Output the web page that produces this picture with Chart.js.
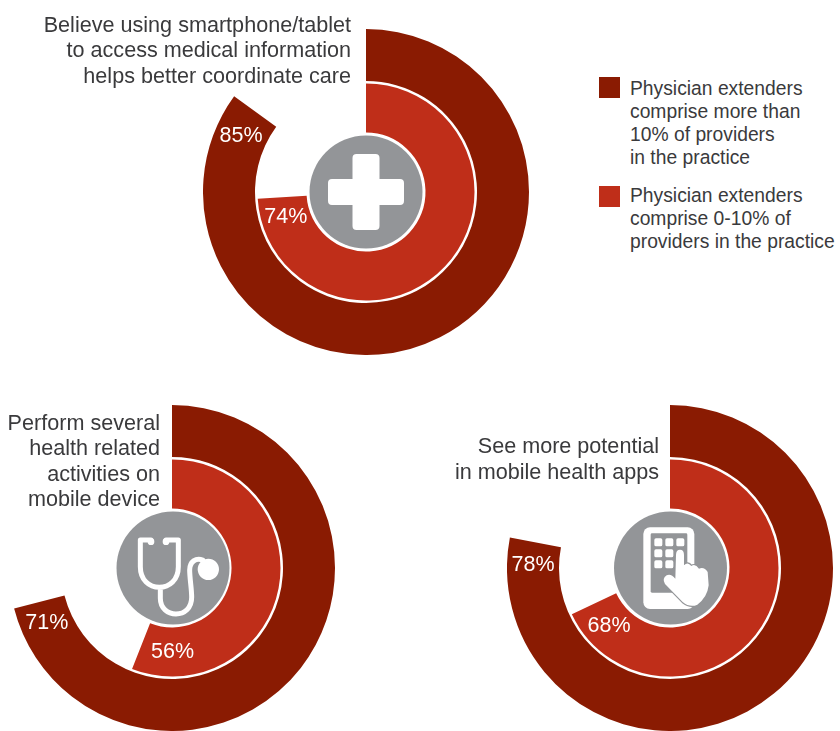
<!DOCTYPE html>
<html>
<head>
<meta charset="utf-8">
<script src="https://cdn.jsdelivr.net/npm/chart.js@4"></script>
<style>
  html, body { margin: 0; padding: 0; background: #fff; }
  body { position: relative; width: 840px; height: 731px; overflow: hidden;
         font-family: "Liberation Sans", Arial, sans-serif; color: #3a3a3c; }
  canvas { position: absolute; }
  .title { position: absolute; text-align: right; white-space: nowrap; font-size: 21.6px; line-height: 25.6px; }
  .key { position: absolute; width: 21px; height: 21px; left: 599px; }
  .keytext { position: absolute; left: 630px; white-space: nowrap; font-size: 19.3px; line-height: 23px; }
</style>
</head>
<body>
<script>
// Survey shares, in percent, for each of the three statements
const seriesNames = [
  "Physician extenders comprise more than 10% of providers in the practice",
  "Physician extenders comprise 0-10% of providers in the practice"
];
const statements = [
  ["Believe using smartphone/tablet", "to access medical information", "helps better coordinate care"],
  ["Perform several", "health related", "activities on", "mobile device"],
  ["See more potential", "in mobile health apps"]
];
const moreThanTen = [85, 71, 78];
const zeroToTen = [74, 56, 68];

const DARK = "#8a1b02";
const RED = "#bf2e19";
const GREY = "#939598";
const RADIUS = 163;

// Canvas centre, hub nudge, title placement and label offsets (degrees back from the arc end)
const panels = [
  { cx: 366, cy: 192, hubDx: 0, titleRight: 351, titleTop: 11.5, back: [11.8, 13.8], icon: drawCross },
  { cx: 171.5, cy: 568, hubDx: 1, titleRight: 160, titleTop: 409.5, back: [9.5, 22], icon: drawStethoscope },
  { cx: 669.5, cy: 568, hubDx: 0.5, titleRight: 659, titleTop: 433, back: [9.6, 18.3], icon: drawTablet }
];

function drawCross(ctx) {
  ctx.fillStyle = "#fff";
  ctx.beginPath();
  ctx.roundRect(-38, -13, 76, 26, 4);
  ctx.roundRect(-13.5, -38, 27, 76, 4);
  ctx.fill();
}

function drawStethoscope(ctx) {
  ctx.save();
  ctx.scale(1 / 3, 1 / 3);
  ctx.translate(-216, -174);
  ctx.strokeStyle = "#fff";
  ctx.fillStyle = "#fff";
  ctx.lineWidth = 15;
  ctx.lineCap = "round";
  ctx.lineJoin = "round";
  ctx.beginPath();
  ctx.moveTo(150, 90);
  ctx.lineTo(118, 90);
  ctx.lineTo(118, 170);
  ctx.bezierCurveTo(118, 210, 145, 232, 175, 232);
  ctx.bezierCurveTo(205, 232, 232, 210, 232, 170);
  ctx.lineTo(232, 90);
  ctx.lineTo(195, 90);
  ctx.moveTo(178, 232);
  ctx.lineTo(178, 265);
  ctx.bezierCurveTo(178, 295, 200, 312, 225, 312);
  ctx.bezierCurveTo(250, 312, 272, 295, 272, 262);
  ctx.bezierCurveTo(272, 235, 266, 205, 266, 180);
  ctx.bezierCurveTo(266, 155, 285, 142, 305, 150);
  ctx.stroke();
  ctx.beginPath();
  ctx.arc(322, 178, 32, 0, Math.PI * 2);
  ctx.moveTo(160, 95);
  ctx.arc(150, 95, 10, 0, Math.PI * 2);
  ctx.moveTo(205, 95);
  ctx.arc(195, 95, 10, 0, Math.PI * 2);
  ctx.fill();
  ctx.restore();
}

function drawTablet(ctx) {
  ctx.save();
  ctx.scale(1 / 3, 1 / 3);
  ctx.translate(-211.5, -174);
  ctx.fillStyle = "#fff";
  ctx.beginPath();
  ctx.roundRect(130, 52, 153, 245, 20);
  ctx.fill();
  ctx.fillStyle = GREY;
  ctx.beginPath();
  ctx.roundRect(152, 70, 110, 178, 4);
  ctx.fill();
  ctx.fillStyle = "#fff";
  const keys = [[163, 85], [196, 85], [229, 85], [163, 118], [196, 118], [163, 151], [196, 151]];
  ctx.beginPath();
  keys.forEach(k => ctx.roundRect(k[0], k[1], 24, 24, 5));
  ctx.moveTo(219, 270);
  ctx.arc(206, 270, 13, 0, Math.PI * 2);
  ctx.fill();
  // Pointing hand, outlined so it separates from the white body
  const hand = new Path2D("M228 135 Q228 119 240 119 Q252 119 252 135 L252 166 Q263 154 274 168 Q286 160 297 176 Q313 170 323 186 L326 226 Q322 262 292 284 Q270 294 248 276 L195 222 Q185 206 200 196 Q213 190 226 206 Z");
  ctx.strokeStyle = GREY;
  ctx.lineWidth = 7;
  ctx.lineJoin = "round";
  ctx.stroke(hand);
  ctx.fill(hand);
  ctx.restore();
}

// Draws the grey hub with its icon and the value labels on the two rings
const hubAndLabels = {
  id: "hubAndLabels",
  afterDatasetsDraw(chart, args, opts) {
    const ctx = chart.ctx;
    const outer = chart.getDatasetMeta(0).data[0];
    const inner = chart.getDatasetMeta(2).data[0];
    ctx.save();
    ctx.translate(outer.x + opts.hubDx, outer.y);
    ctx.fillStyle = GREY;
    ctx.beginPath();
    ctx.arc(0, 0, 56.5, 0, Math.PI * 2);
    ctx.fill();
    opts.icon(ctx);
    ctx.restore();

    ctx.save();
    ctx.fillStyle = "#fff";
    ctx.font = '21.5px "Liberation Sans", Arial, sans-serif';
    ctx.textAlign = "center";
    ctx.textBaseline = "middle";
    [[outer, 0], [inner, 1]].forEach(([arc, i]) => {
      const angle = arc.endAngle - opts.back[i] * Math.PI / 180;
      const r = (arc.innerRadius + arc.outerRadius) / 2;
      const value = chart.data.datasets[i === 0 ? 0 : 2].data[0];
      ctx.fillText(value + "%", arc.x + Math.cos(angle) * r, arc.y + Math.sin(angle) * r);
    });
    ctx.restore();
  }
};

panels.forEach((panel, i) => {
  const canvas = document.createElement("canvas");
  canvas.width = RADIUS * 2;
  canvas.height = RADIUS * 2;
  canvas.style.left = (panel.cx - RADIUS) + "px";
  canvas.style.top = (panel.cy - RADIUS) + "px";
  document.body.appendChild(canvas);

  new Chart(canvas, {
    type: "doughnut",
    plugins: [hubAndLabels],
    data: {
      labels: ["Agree", "Other"],
      datasets: [
        { label: seriesNames[0], data: [moreThanTen[i], 100 - moreThanTen[i]],
          backgroundColor: [DARK, "rgba(0,0,0,0)"], borderWidth: 0, weight: 52 },
        // Empty ring that leaves the thin white line between the two series
        { label: "", data: [], borderWidth: 0, weight: 2.5 },
        { label: seriesNames[1], data: [zeroToTen[i], 100 - zeroToTen[i]],
          backgroundColor: [RED, "rgba(0,0,0,0)"], borderWidth: 0, weight: 49 }
      ]
    },
    options: {
      responsive: false,
      animation: false,
      cutout: 59.5 / 163 * 100 + "%",
      layout: { padding: 0 },
      events: [],
      plugins: {
        legend: { display: false },
        tooltip: { enabled: false },
        hubAndLabels: { icon: panel.icon, back: panel.back, hubDx: panel.hubDx }
      }
    }
  });

  const title = document.createElement("div");
  title.className = "title";
  title.style.right = (840 - panel.titleRight) + "px";
  title.style.top = panel.titleTop + "px";
  title.innerHTML = statements[i].join("<br>");
  document.body.appendChild(title);
});

// Key on the right, wrapped by hand to the drawn line breaks
const keyLines = [
  ["Physician extenders", "comprise more than", "10% of providers", "in the practice"],
  ["Physician extenders", "comprise 0-10% of", "providers in the practice"]
];
[[DARK, 77, 76.5], [RED, 186, 184]].forEach(([color, squareTop, textTop], i) => {
  const sq = document.createElement("div");
  sq.className = "key";
  sq.style.background = color;
  sq.style.top = squareTop + "px";
  document.body.appendChild(sq);
  const t = document.createElement("div");
  t.className = "keytext";
  t.style.top = textTop + "px";
  t.innerHTML = keyLines[i].join("<br>");
  document.body.appendChild(t);
});
</script>
</body>
</html>
